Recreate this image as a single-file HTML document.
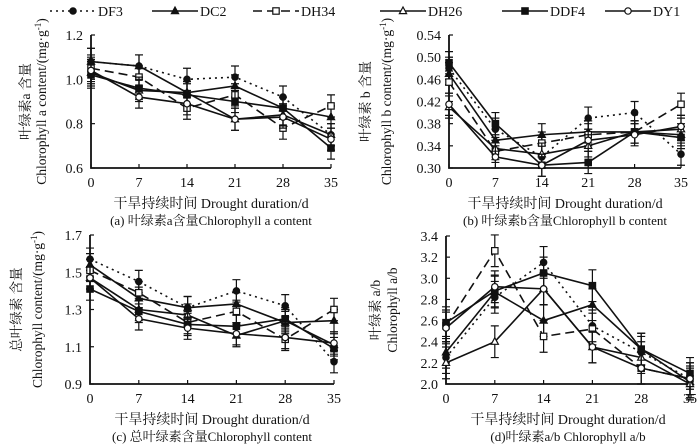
<!DOCTYPE html>
<html><head><meta charset="utf-8">
<style>
html,body{margin:0;padding:0;background:#fff;}
svg{display:block;}
text{font-family:"Liberation Serif","Noto Serif CJK SC","Noto Sans CJK SC",serif;fill:#111;}
</style></head>
<body>
<svg id="chart" width="700" height="444" viewBox="0 0 700 444" xmlns="http://www.w3.org/2000/svg"></svg>
<script>
const days = [0,7,14,21,28,35];
const seriesNames = ["DF3","DC2","DH34","DH26","DDF4","DY1"];
// Panel a: chlorophyll a
const aDF3 = [1.08,1.06,1.00,1.01,0.92,0.75];
const aDC2 = [1.08,1.06,0.94,0.97,0.87,0.83];
const aDH34 = [1.05,1.01,0.87,0.93,0.78,0.88];
const aDH26 = [1.03,0.95,0.94,0.82,0.84,0.75];
const aDDF4 = [1.02,0.96,0.93,0.90,0.87,0.69];
const aDY1 = [1.04,0.92,0.89,0.82,0.83,0.73];
const aErr = [0.06,0.05,0.05,0.05,0.05,0.05];
const aTicks = ["0.6","0.8","1.0","1.2"];
// Panel b: chlorophyll b
const bDF3 = [0.48,0.37,0.32,0.39,0.40,0.325];
const bDC2 = [0.47,0.35,0.36,0.365,0.365,0.36];
const bDH34 = [0.455,0.33,0.345,0.36,0.365,0.415];
const bDH26 = [0.41,0.335,0.325,0.34,0.365,0.37];
const bDDF4 = [0.49,0.38,0.305,0.31,0.365,0.355];
const bDY1 = [0.415,0.32,0.305,0.35,0.36,0.375];
const bErr = [0.02,0.02,0.02,0.02,0.02,0.02];
const bTicks = ["0.30","0.34","0.38","0.42","0.46","0.50","0.54"];
// Panel c: total chlorophyll
const cDF3 = [1.57,1.45,1.31,1.40,1.32,1.02];
const cDC2 = [1.54,1.36,1.31,1.33,1.23,1.24];
const cDH34 = [1.51,1.39,1.23,1.29,1.14,1.30];
const cDH26 = [1.47,1.30,1.27,1.16,1.24,1.11];
const cDDF4 = [1.41,1.29,1.22,1.21,1.25,1.09];
const cDY1 = [1.47,1.25,1.20,1.17,1.15,1.12];
const cErr = [0.06,0.06,0.06,0.06,0.06,0.06];
const cTicks = ["0.9","1.1","1.3","1.5","1.7"];
// Panel d: a/b ratio
const dDF3 = [2.25,2.82,3.15,2.55,2.30,2.05];
const dDC2 = [2.30,2.87,2.60,2.75,2.33,2.02];
const dDH34 = [2.55,3.26,2.45,2.52,2.15,2.05];
const dDH26 = [2.20,2.40,2.90,2.35,2.25,2.00];
const dDDF4 = [2.58,2.88,3.05,2.93,2.33,2.10];
const dDY1 = [2.53,2.92,2.90,2.35,2.15,2.05];
const dErr = [0.15,0.15,0.15,0.15,0.15,0.15];
const dTicks = ["2.0","2.2","2.4","2.6","2.8","3.0","3.2","3.4"];

const NS="http://www.w3.org/2000/svg";
const svg=document.getElementById('chart');
function mk(tag,attrs,parent){const e=document.createElementNS(NS,tag);for(const k in attrs)e.setAttribute(k,attrs[k]);(parent||svg).appendChild(e);return e;}

const styles=[
 {dash:"2,4",marker:"circle",fill:"#111"},
 {dash:"",marker:"tri",fill:"#111"},
 {dash:"9,5",marker:"square",fill:"#fff"},
 {dash:"",marker:"tri",fill:"#fff"},
 {dash:"",marker:"square",fill:"#111"},
 {dash:"",marker:"circle",fill:"#fff"}
];
function marker(g,type,x,y,fill){
  let m;
  if(type==="circle") m=mk('circle',{cx:x,cy:y,r:3.2,fill:fill,stroke:"#111","stroke-width":1.2},g);
  else if(type==="square") m=mk('rect',{x:x-3.2,y:y-3.2,width:6.4,height:6.4,fill:fill,stroke:"#111","stroke-width":1.2},g);
  else m=mk('polygon',{points:`${x},${y-4} ${x-3.6},${y+2.6} ${x+3.6},${y+2.6}`,fill:fill,stroke:"#111","stroke-width":1.2},g);
  return m;
}

function panel(cfg){
  const g=mk('g',{});
  
  
  const xs=v=>cfg.x0+(v-0)/35*(cfg.x1-cfg.x0);
  const ys=v=>cfg.yb+(v-cfg.ymin)/(cfg.ymax-cfg.ymin)*(cfg.yt-cfg.yb);
  const ax=mk('path',{d:`M${cfg.x0},${cfg.yt} V${cfg.yb} H${cfg.x1}`,fill:"none",stroke:"#111","stroke-width":1.8},g);
  
  
  cfg.ticks.forEach(t=>{
    const y=ys(parseFloat(t));
    mk('line',{x1:cfg.x0,x2:cfg.x0+4,y1:y,y2:y,stroke:"#111","stroke-width":1.2},g);
    const tx=mk('text',{x:cfg.x0-8,y:y+5,"text-anchor":"end","font-size":14},g);
    tx.textContent=t;
    
    
  });
  days.forEach(d=>{
    const x=xs(d);
    mk('line',{x1:x,x2:x,y1:cfg.yb,y2:cfg.yb-4,stroke:"#111","stroke-width":1.2},g);
    const tx=mk('text',{x:x,y:cfg.yb+19,"text-anchor":"middle","font-size":14},g);
    tx.textContent=d;
    
    
  });
  cfg.series.forEach((vals,i)=>{
    const st=styles[i];
    const sg=mk('g',{},g);
    
    
    const pts=vals.map((v,j)=>xs(days[j])+','+ys(v)).join(' ');
    const pl=mk('polyline',{points:pts,fill:"none",stroke:"#111","stroke-width":1.6,"stroke-dasharray":st.dash},sg);
    
    
    vals.forEach((v,j)=>{
      const x=xs(days[j]),e=cfg.err[j];
      const y1=ys(v+e),y2=ys(v-e);
      mk('path',{d:`M${x},${y1}V${y2}M${x-4},${y1}H${x+4}M${x-4},${y2}H${x+4}`,stroke:"#111","stroke-width":1.2,fill:"none"},sg);
      const m=marker(sg,st.marker,x,ys(v),st.fill);
      
      
    });
  });
  const cy=(cfg.yt+cfg.yb)/2;
  cfg.ytitle.forEach((t,k)=>{
    const tx=mk('text',{x:cfg.ytx[k],y:cy,"text-anchor":"middle","font-size":13.5,transform:`rotate(-90 ${cfg.ytx[k]} ${cy})`},g);
    tx.innerHTML=t;
    
    
  });
  const xt=mk('text',{x:(cfg.x0+cfg.x1)/2,y:cfg.yb+40,"text-anchor":"middle","font-size":14},g);
  xt.textContent="干旱持续时间  Drought  duration/d";
  
  
  const cp=mk('text',{x:(cfg.x0+cfg.x1)/2,y:cfg.yb+57,"text-anchor":"middle","font-size":13},g);
  cp.textContent=cfg.caption;
  
  
}

panel({name:'panel-a',x0:91,x1:331,yt:35,yb:168,ymin:0.6,ymax:1.2,ticks:aTicks,err:aErr,
 series:[aDF3,aDC2,aDH34,aDH26,aDDF4,aDY1],
 ytitle:["叶绿素a 含量","Chlorophyll a content/(mg·g<tspan dy='-5' font-size='9'>-1</tspan><tspan dy='5'>)</tspan>"],ytx:[30,46],
 caption:"(a) 叶绿素a含量Chlorophyll a content"});
panel({name:'panel-b',x0:449,x1:681,yt:35,yb:168,ymin:0.30,ymax:0.54,ticks:bTicks,err:bErr,
 series:[bDF3,bDC2,bDH34,bDH26,bDDF4,bDY1],
 ytitle:["叶绿素 b 含量","Chlorophyll b content/(mg·g<tspan dy='-5' font-size='9'>-1</tspan><tspan dy='5'>)</tspan>"],ytx:[370,391],
 caption:"(b) 叶绿素b含量Chlorophyll b content"});
panel({name:'panel-c',x0:90,x1:334,yt:235,yb:384,ymin:0.9,ymax:1.7,ticks:cTicks,err:cErr,
 series:[cDF3,cDC2,cDH34,cDH26,cDDF4,cDY1],
 ytitle:["总叶绿素 含量","Chlorophyll content/(mg·g<tspan dy='-5' font-size='9'>-1</tspan><tspan dy='5'>)</tspan>"],ytx:[21,42],
 caption:"(c) 总叶绿素含量Chlorophyll content"});
panel({name:'panel-d',x0:446,x1:690,yt:236,yb:384,ymin:2.0,ymax:3.4,ticks:dTicks,err:dErr,
 series:[dDF3,dDC2,dDH34,dDH26,dDDF4,dDY1],
 ytitle:["叶绿素 a/b","Chlorophyll a/b"],ytx:[380,397],
 caption:"(d)叶绿素a/b Chlorophyll a/b"});

const legX=[50,152,253,380,502,605];
const lg=mk('g',{});


seriesNames.forEach((n,i)=>{
  const st=styles[i];
  const eg=mk('g',{},lg);
  
  
  const x=legX[i];
  mk('line',{x1:x,x2:x+46,y1:11,y2:11,stroke:"#111","stroke-width":1.6,"stroke-dasharray":st.dash},eg);
  marker(eg,st.marker,x+23,11,st.fill);
  const t=mk('text',{x:x+48,y:16,"font-size":14,"font-family":"Liberation Sans, sans-serif"},eg);
  t.textContent=n;
});
</script>
</body></html>
